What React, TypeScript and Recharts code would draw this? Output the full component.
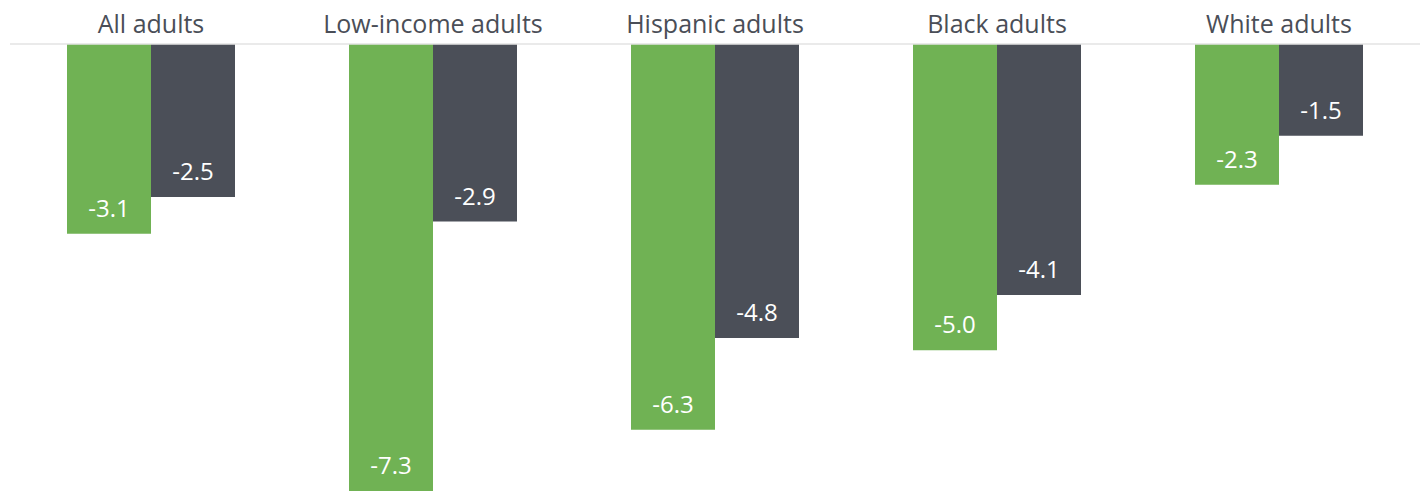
import { BarChart, Bar, XAxis, YAxis, LabelList } from 'recharts';

const groups = ['All adults', 'Low-income adults', 'Hispanic adults', 'Black adults', 'White adults'];
const greenValues = [-3.1, -7.3, -6.3, -5.0, -2.3];
const greyValues = [-2.5, -2.9, -4.8, -4.1, -1.5];

const data = groups.map((g, i) => ({ group: g, green: greenValues[i], grey: greyValues[i] }));

const FONT = '"Open Sans", sans-serif';

function GroupTick(props: any) {
  const { x, payload } = props;
  return (
    <text x={x} y={33} textAnchor="middle" fill="#4a4e57" fontSize={25} fontFamily={FONT}>
      {payload.value}
    </text>
  );
}

function ValueLabel(props: any) {
  const { x, y, width, height, value } = props;
  const bottom = Math.max(y, y + height);
  return (
    <text x={x + width / 2} y={bottom - 17} textAnchor="middle" fill="#ffffff" fontSize={24} fontFamily={FONT}>
      {Number(value).toFixed(1)}
    </text>
  );
}

export default function App() {
  return (
    <div style={{ position: 'absolute', left: 0, top: 0, background: '#fff' }}>
      <BarChart
        width={1424}
        height={491}
        data={data}
        margin={{ top: 0, right: 4, bottom: 0, left: 10 }}
        barCategoryGap={57}
        barGap={0}
      >
        <XAxis
          dataKey="group"
          orientation="top"
          height={44}
          tickLine={false}
          axisLine={{ stroke: '#e3e3e3', strokeWidth: 1.5 }}
          tick={<GroupTick />}
          interval={0}
        />
        <YAxis hide domain={[-7.3, 0]} />
        <Bar dataKey="green" fill="#70b254" isAnimationActive={false}>
          <LabelList dataKey="green" content={<ValueLabel />} />
        </Bar>
        <Bar dataKey="grey" fill="#4b4f58" isAnimationActive={false}>
          <LabelList dataKey="grey" content={<ValueLabel />} />
        </Bar>
      </BarChart>
    </div>
  );
}
